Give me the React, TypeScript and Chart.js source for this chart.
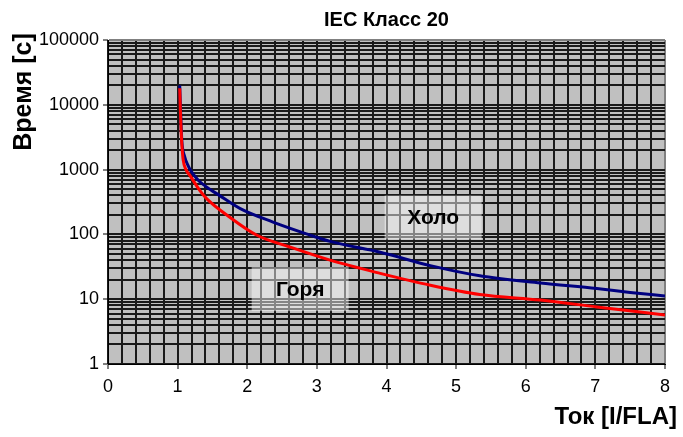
import { useEffect, useRef } from 'react';
import { Chart, registerables } from 'chart.js';

Chart.register(...registerables);

// Cold (Холо) curve
const coldX = [1.03, 1.04, 1.05, 1.06, 1.1, 1.15, 1.2, 1.3, 1.42, 1.6, 1.9, 2.37, 2.85, 3.19, 3.91, 4.63, 5.34, 6.21, 7.02, 7.5, 8.0];
const coldY = [20000, 10000, 5000, 2800, 1600, 1150, 920, 680, 535, 400, 250, 155, 102, 78, 53, 33, 23, 17.8, 14.6, 12.7, 11.2];
// Hot (Горя) curve
const hotX = [1.03, 1.04, 1.05, 1.06, 1.08, 1.12, 1.18, 1.32, 1.42, 1.75, 2.14, 2.61, 3.19, 3.91, 4.63, 5.34, 6.21, 7.02, 8.0];
const hotY = [18000, 8000, 4000, 2500, 1400, 1000, 800, 475, 354, 184, 97, 64, 40, 25, 16.4, 11.8, 9.7, 7.6, 5.7];

// In-plot labels
const labelTexts = ['Холо', 'Горя'];
const labelX = [4.67, 2.76];
const labelY = [182, 14.3];

const titleText = 'IEC Класс 20';
const xTitle = 'Ток [I/FLA]';
const yTitle = 'Время [с]';

const xMin = 0;
const xMax = 8;
const xGridStep = 0.2;
const yMin = 1;
const yMax = 100000;

const FONT = 'Arial, "Liberation Sans", sans-serif';

const isInt = (v: number) => Math.abs(v - Math.round(v)) < 1e-6;
const isPow10 = (v: number) => isInt(Math.log10(v));

export default function App() {
  const ref = useRef<HTMLCanvasElement | null>(null);

  useEffect(() => {
    document.body.style.margin = '0';
    const canvas = ref.current;
    if (!canvas) return;

    const bgPlugin = {
      id: 'bgPlugin',
      beforeDraw(chart: any) {
        const { ctx, chartArea } = chart;
        ctx.save();
        ctx.fillStyle = '#ffffff';
        ctx.fillRect(0, 0, chart.width, chart.height);
        ctx.fillStyle = '#c0c0c0';
        ctx.fillRect(chartArea.left, chartArea.top, chartArea.right - chartArea.left, chartArea.bottom - chartArea.top);
        ctx.restore();
      },
      beforeDatasetsDraw(chart: any) {
        const { ctx } = chart;
        const xs = chart.scales.x;
        const ys = chart.scales.y;
        ctx.save();
        for (let i = 0; i < labelTexts.length; i++) {
          const px = xs.getPixelForValue(labelX[i]);
          const py = ys.getPixelForValue(labelY[i]);
          const w = 97;
          const h = 44;
          ctx.fillStyle = 'rgba(255,255,255,0.47)';
          ctx.fillRect(px - w / 2, py - h / 2, w, h);
          ctx.fillStyle = '#000';
          ctx.font = `bold 21px ${FONT}`;
          ctx.textAlign = 'center';
          ctx.textBaseline = 'middle';
          ctx.fillText(labelTexts[i], px, py + 1);
        }
        ctx.restore();
      },
      afterDraw(chart: any) {
        const { ctx, chartArea } = chart;
        ctx.save();
        ctx.fillStyle = '#000';
        ctx.textBaseline = 'middle';
        ctx.textAlign = 'center';
        ctx.font = `bold 20px ${FONT}`;
        ctx.fillText(titleText, (chartArea.left + chartArea.right) / 2, 20);

        ctx.font = `bold 24px ${FONT}`;
        ctx.textAlign = 'right';
        ctx.fillText(xTitle, 677, 417);

        ctx.font = `bold 25px ${FONT}`;
        ctx.translate(24, 92);
        ctx.rotate(-Math.PI / 2);
        ctx.textAlign = 'center';
        ctx.fillText(yTitle, 0, 0);
        ctx.restore();
      },
    };

    const chart = new Chart(canvas, {
      type: 'line',
      data: {
        datasets: [
          {
            label: 'Горя',
            data: hotX.map((x, i) => ({ x, y: hotY[i] })),
            borderColor: '#ff0000',
            borderWidth: 3,
            pointRadius: 0,
            cubicInterpolationMode: 'monotone',
            order: 0,
          },
          {
            label: 'Холо',
            data: coldX.map((x, i) => ({ x, y: coldY[i] })),
            borderColor: '#000080',
            borderWidth: 3,
            pointRadius: 0,
            cubicInterpolationMode: 'monotone',
            order: 1,
          },
        ],
      },
      options: {
        animation: false,
        responsive: false,
        maintainAspectRatio: false,
        layout: { padding: { top: 40, right: 18, left: 0, bottom: 0 } },
        plugins: {
          legend: { display: false },
          title: { display: false },
          tooltip: { enabled: false },
        },
        scales: {
          x: {
            type: 'linear',
            min: xMin,
            max: xMax,
            afterBuildTicks: (scale: any) => {
              const t = [];
              const n = Math.round((xMax - xMin) / xGridStep);
              for (let i = 0; i <= n; i++) t.push({ value: +(xMin + i * xGridStep).toFixed(4) });
              scale.ticks = t;
            },
            afterFit: (scale: any) => {
              scale.height = 73;
            },
            ticks: {
              autoSkip: false,
              maxRotation: 0,
              padding: 7,
              color: '#000',
              font: { size: 18, family: FONT },
              callback: (v: any) => (isInt(Number(v)) ? String(Math.round(Number(v))) : ''),
            },
            grid: {
              color: (c: any) => (c.tick && Math.abs(c.tick.value - xMax) < 1e-6 ? '#808080' : '#1a1a1a'),
              lineWidth: 2,
              tickLength: 5,
              tickColor: (c: any) => (c.tick && isInt(c.tick.value) ? '#000' : 'rgba(0,0,0,0)'),
              tickWidth: 1,
            },
            border: { color: '#000', width: 1 },
          },
          y: {
            type: 'logarithmic',
            min: yMin,
            max: yMax,
            afterBuildTicks: (scale: any) => {
              const t = [];
              for (let e = 0; e < 5; e++) {
                for (let m = 1; m <= 9; m++) t.push({ value: m * Math.pow(10, e) });
              }
              t.push({ value: yMax });
              scale.ticks = t;
            },
            afterFit: (scale: any) => {
              scale.width = 108;
            },
            ticks: {
              autoSkip: false,
              padding: 4,
              color: '#000',
              font: { size: 18, family: FONT },
              callback: (v: any) => (isPow10(Number(v)) ? String(Math.round(Number(v))) : ''),
            },
            grid: {
              color: (c: any) => (c.tick && Math.abs(c.tick.value - yMax) < 1e-6 ? '#808080' : '#1a1a1a'),
              lineWidth: 2,
              tickLength: 5,
              tickColor: (c: any) => (c.tick && isPow10(c.tick.value) ? '#000' : 'rgba(0,0,0,0)'),
              tickWidth: 1,
            },
            border: { color: '#000', width: 1 },
          },
        },
      },
      plugins: [bgPlugin],
    } as any);

    return () => chart.destroy();
  }, []);

  return (
    <div style={{ width: 683, height: 437 }}>
      <canvas ref={ref} width={683} height={437} style={{ display: 'block' }} />
    </div>
  );
}
